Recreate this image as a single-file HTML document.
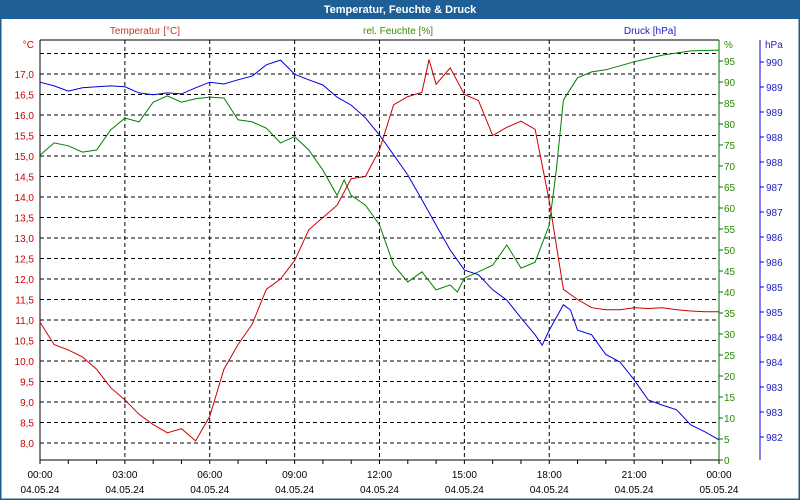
<!DOCTYPE html>
<html><head><meta charset="utf-8"><style>
body{margin:0;background:#fff;}
#wrap{position:relative;width:800px;height:500px;overflow:hidden;font-family:"Liberation Sans",sans-serif;}
</style></head><body>
<div id="wrap">
<svg id="c" width="800" height="500" xmlns="http://www.w3.org/2000/svg"></svg>
</div>
<script>
const hours=[0,0.5,1,1.5,2,2.5,3,3.5,4,4.5,5,5.5,6,6.5,7,7.5,8,8.5,9,9.5,10,10.5,11,11.5,12,12.5,13,13.5,13.75,14,14.5,15,15.5,16,16.5,17,17.5,18,18.5,19,19.5,20,20.5,21,21.5,22,22.5,23,23.5,24];
const tempVals=[10.95,10.4,10.27,10.1,9.8,9.35,9.05,8.7,8.45,8.25,8.35,8.05,8.65,9.8,10.4,10.9,11.75,12.0,12.45,13.2,13.5,13.8,14.45,14.5,15.15,16.25,16.45,16.55,17.35,16.75,17.15,16.5,16.35,15.5,15.7,15.85,15.65,13.9,11.75,11.5,11.3,11.25,11.25,11.3,11.28,11.3,11.25,11.22,11.2,11.2];
const humHours=[0,0.5,1,1.5,2,2.5,3,3.5,4,4.5,5,5.5,6,6.5,7,7.5,8,8.5,9,9.5,10,10.5,10.75,11,11.5,12,12.5,13,13.5,14,14.5,14.75,15,15.5,16,16.5,17,17.5,18,18.25,18.5,19,19.5,20,21,22,23,24];
const humVals=[72.6,75.5,74.8,73.3,73.8,78.6,81.4,80.5,85.2,86.7,85.2,86,86.4,86.2,81,80.5,79,75.5,77,73.8,69,63,66.7,63,60.7,56,46.4,42.4,44.8,40.5,41.7,40,43.3,44.8,46.4,51.2,45.7,47.1,56,69,85.7,91,92.4,92.9,94.8,96.4,97.4,97.6];
const presHours=[0,0.5,1,1.5,2,2.5,3,3.5,4,4.5,5,5.5,6,6.5,7,7.5,8,8.5,9,9.5,10,10.5,11,11.5,12,12.5,13,13.5,14,14.5,15,15.5,16,16.5,17,17.5,17.75,18,18.5,18.75,19,19.5,20,20.5,21,21.5,22,22.5,23,23.5,24];
const presVals=[989.77,989.69,989.58,989.65,989.67,989.69,989.67,989.54,989.5,989.54,989.52,989.65,989.77,989.73,989.82,989.9,990.14,990.24,989.94,989.82,989.71,989.45,989.28,989.01,988.64,988.22,987.79,987.26,986.72,986.19,985.76,985.66,985.34,985.12,984.74,984.38,984.16,984.48,985.02,984.91,984.48,984.38,983.96,983.8,983.42,982.99,982.88,982.78,982.46,982.31,982.14];
const tempTicks=[17.0,16.5,16.0,15.5,15.0,14.5,14.0,13.5,13.0,12.5,12.0,11.5,11.0,10.5,10.0,9.5,9.0,8.5,8.0];
const humTicks=[95,90,85,80,75,70,65,60,55,50,45,40,35,30,25,20,15,10,5,0];
const presTickLabels=["990","989","989","988","988","987","987","986","986","985","985","984","984","983","983","982"];
const timeLabels=["00:00","03:00","06:00","09:00","12:00","15:00","18:00","21:00","00:00"];
const dateLabels=["04.05.24","04.05.24","04.05.24","04.05.24","04.05.24","04.05.24","04.05.24","04.05.24","05.05.24"];

const L=40,R=719,T=40,B=460;
const xS=h=>L+h*(R-L)/24;
const yT=v=>74+(17-v)*41;
const yH=v=>460-v*4.2;
const yP=v=>62+(990.2-v)*375/8;
const svg=document.getElementById('c');
const NS='http://www.w3.org/2000/svg';
function mk(tag,attrs,parent){const e=document.createElementNS(NS,tag);for(const k in attrs)e.setAttribute(k,attrs[k]);(parent||svg).appendChild(e);return e;}
function txt(x,y,s,col,anchor,size,name){const t=mk('text',{x:x,y:y,fill:col,'font-size':size||10,'text-anchor':anchor||'start','font-family':'Liberation Sans, sans-serif'});t.textContent=s;


return t;}

// window frame
let e=mk('rect',{x:0,y:0,width:800,height:500,fill:'#fff',stroke:'#1e5a8e','stroke-width':3});


e=mk('rect',{x:0,y:0,width:800,height:19,fill:'#1e5f98'});


e=txt(400,13,'Temperatur, Feuchte & Druck','#fff','middle',11,'chart-title');e.setAttribute('font-weight','bold');
txt(145,34,'Temperatur [°C]','#c0392b','middle',10,'temp-axis-title');
txt(398,34,'rel. Feuchte [%]','#3a8a00','middle',10,'humidity-axis-title');
txt(650,34,'Druck [hPa]','#2020c0','middle',10,'pressure-axis-title');
txt(34,48,'°C','#cc0000','end',10,'temp-unit');
txt(724,48,'%','#2a8a00','start',10,'humidity-unit');
txt(765,48,'hPa','#2020c0','start',10,'pressure-unit');

// grid horizontal
const gy=[17.5].concat(tempTicks);
gy.forEach(v=>{const g=mk('line',{x1:L,x2:R,y1:yT(v),y2:yT(v),stroke:'#000','stroke-dasharray':'4,3','stroke-width':1});

});
timeLabels.forEach((s,i)=>{const x=xS(i*3);
if(i>0&&i<8){const g=mk('line',{x1:x,x2:x,y1:T,y2:B,stroke:'#000','stroke-dasharray':'4,3'});

}
txt(x,478,s,'#000','middle',10,'time-label');
txt(x,493,dateLabels[i],'#000','middle',10,'date-label');});
for(let h=0;h<=24;h++){const t=mk('line',{x1:xS(h),x2:xS(h),y1:B,y2:B+4,stroke:'#000'});

}
// axes
e=mk('line',{x1:L,x2:R,y1:T,y2:T,stroke:'#000'});
e=mk('line',{x1:L,x2:R,y1:B,y2:B,stroke:'#000'});
e=mk('line',{x1:L,x2:L,y1:T,y2:B,stroke:'#000'});
e=mk('line',{x1:R,x2:R,y1:T,y2:B,stroke:'#007000'});
e=mk('line',{x1:760,x2:760,y1:T,y2:B,stroke:'#0000cc'});

tempTicks.forEach(v=>txt(34,yT(v)+4,v.toFixed(1).replace('.',','),'#cc0000','end',10,'temp-tick-label'));
humTicks.forEach(v=>{const t=mk('line',{x1:R,x2:R+4,y1:yH(v),y2:yH(v),stroke:'#007000'});


txt(724,yH(v)+4,String(v),'#2a8a00','start',10,'humidity-tick-label');});
presTickLabels.forEach((s,i)=>{const y=62+i*25;
const t=mk('line',{x1:760,x2:764,y1:y,y2:y,stroke:'#0000cc'});


txt(766,y+4,s,'#2020c0','start',10,'pressure-tick-label');});

function line(hs,vs,ys,col,name){const d=hs.map((h,i)=>(i?'L':'M')+xS(h).toFixed(1)+','+ys(vs[i]).toFixed(1)).join(' ');
const p=mk('path',{d:d,fill:'none',stroke:col,'stroke-width':1});

}
line(humHours,humVals,yH,'#008000','humidity-line');
line(presHours,presVals,yP,'#0000dd','pressure-line');
line(hours,tempVals,yT,'#cc0000','temperature-line');
</script>
</body></html>
